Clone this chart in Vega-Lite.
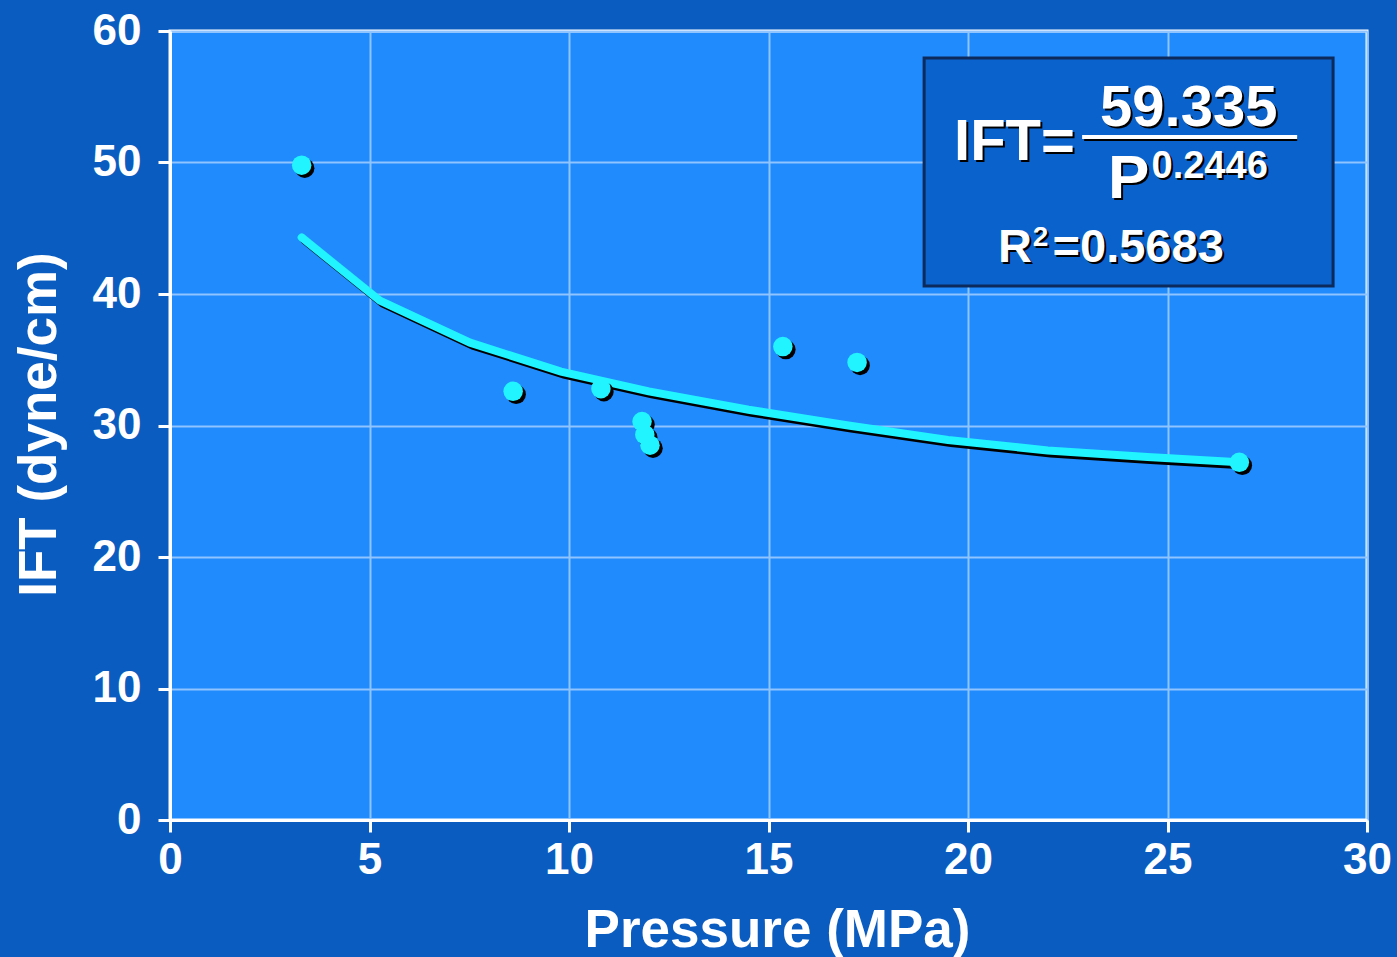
{
  "$schema": "https://vega.github.io/schema/vega-lite/v6.json",
  "autosize": "none",
  "width": 1197,
  "height": 789,
  "padding": {"left": 170, "top": 31, "right": 30, "bottom": 137},
  "background": "#0a5cc0",
  "config": {
    "view": {"fill": "#1f8bfd", "stroke": "#ffffff", "strokeWidth": 3},
    "font": "Liberation Sans",
    "axis": {
      "domainColor": "#ffffff", "domainWidth": 3,
      "tickColor": "#ffffff", "tickWidth": 3, "tickSize": 12,
      "gridColor": "#8fc4ff", "gridWidth": 2,
      "labelColor": "#ffffff", "labelFont": "Liberation Sans", "labelFontWeight": "bold", "labelFontSize": 44,
      "labelFlush": false,
      "titleColor": "#ffffff", "titleFont": "Liberation Sans", "titleFontWeight": "bold", "titleFontSize": 53
    }
  },
  "datasets": {
    "obs": [
      {"P": 3.3, "IFT": 49.8},
      {"P": 8.6, "IFT": 32.6},
      {"P": 10.8, "IFT": 32.8},
      {"P": 11.83, "IFT": 30.3},
      {"P": 11.9, "IFT": 29.3},
      {"P": 12.03, "IFT": 28.5},
      {"P": 15.36, "IFT": 36.0},
      {"P": 17.22, "IFT": 34.8},
      {"P": 26.8, "IFT": 27.2}
    ],
    "fit": [
      {"P": 3.3, "IFT": 44.3},
      {"P": 5.26, "IFT": 39.5},
      {"P": 7.52, "IFT": 36.3},
      {"P": 9.8, "IFT": 34.1},
      {"P": 12.0, "IFT": 32.6},
      {"P": 14.5, "IFT": 31.2},
      {"P": 17.0, "IFT": 30.0},
      {"P": 19.5, "IFT": 28.9},
      {"P": 22.0, "IFT": 28.1},
      {"P": 24.5, "IFT": 27.6},
      {"P": 26.8, "IFT": 27.2}
    ],
    "box": [{"x": 18.9, "x2": 29.15, "y": 40.6, "y2": 57.95}],
    "bar": [{"x": 22.86, "x2": 28.25, "y": 51.94}],
    "eq": [
      {"x": 19.65, "y": 50.19, "t": "IFT=", "k": "eq"},
      {"x": 23.31, "y": 52.78, "t": "59.335", "k": "eq"},
      {"x": 23.51, "y": 47.3, "t": "P", "k": "p"},
      {"x": 24.6, "y": 48.82, "t": "0.2446", "k": "sup"},
      {"x": 20.75, "y": 42.43, "t": "R", "k": "r"},
      {"x": 21.62, "y": 43.65, "t": "2", "k": "rsup"},
      {"x": 22.12, "y": 42.43, "t": "=0.5683", "k": "r"}
    ]
  },
  "layer": [
    {
      "data": {"name": "fit"},
      "mark": {"type": "line", "color": "#000000", "strokeWidth": 8, "xOffset": 3, "yOffset": 3, "strokeCap": "round"},
      "encoding": {
        "x": {"field": "P", "type": "quantitative",
              "scale": {"domain": [0, 30], "nice": false},
              "axis": {"values": [0, 5, 10, 15, 20, 25, 30], "title": "Pressure (MPa)", "labelPadding": 6,
                       "titleX": 607, "titleY": 126, "titleBaseline": "alphabetic", "titleAnchor": null}},
        "y": {"field": "IFT", "type": "quantitative",
              "scale": {"domain": [0, 60], "nice": false},
              "axis": {"values": [0, 10, 20, 30, 40, 50, 60], "title": "IFT (dyne/cm)", "labelPadding": 17,
                       "titleAngle": -90, "titleX": -115, "titleY": 393, "titleAlign": "center", "titleBaseline": "alphabetic"}}
      }
    },
    {
      "data": {"name": "fit"},
      "mark": {"type": "line", "color": "#22f4ff", "strokeWidth": 8, "strokeCap": "round"},
      "encoding": {
        "x": {"field": "P", "type": "quantitative"},
        "y": {"field": "IFT", "type": "quantitative"}
      }
    },
    {
      "data": {"name": "obs"},
      "mark": {"type": "circle", "color": "#000000", "opacity": 1, "size": 380, "xOffset": 3, "yOffset": 3},
      "encoding": {
        "x": {"field": "P", "type": "quantitative"},
        "y": {"field": "IFT", "type": "quantitative"}
      }
    },
    {
      "data": {"name": "obs"},
      "mark": {"type": "circle", "color": "#22f4ff", "opacity": 1, "size": 380},
      "encoding": {
        "x": {"field": "P", "type": "quantitative"},
        "y": {"field": "IFT", "type": "quantitative"}
      }
    },
    {
      "data": {"name": "box"},
      "mark": {"type": "rect", "fill": "#0a62cc", "stroke": "#0d2a5c", "strokeWidth": 3},
      "encoding": {
        "x": {"field": "x", "type": "quantitative"},
        "x2": {"field": "x2"},
        "y": {"field": "y", "type": "quantitative"},
        "y2": {"field": "y2"}
      }
    },
    {
      "data": {"name": "bar"},
      "mark": {"type": "rule", "color": "#000000", "strokeWidth": 4, "xOffset": 2, "yOffset": 2},
      "encoding": {
        "x": {"field": "x", "type": "quantitative"},
        "x2": {"field": "x2"},
        "y": {"field": "y", "type": "quantitative"}
      }
    },
    {
      "data": {"name": "bar"},
      "mark": {"type": "rule", "color": "#ffffff", "strokeWidth": 4},
      "encoding": {
        "x": {"field": "x", "type": "quantitative"},
        "x2": {"field": "x2"},
        "y": {"field": "y", "type": "quantitative"}
      }
    },
    {
      "data": {"name": "eq"},
      "mark": {"type": "text", "color": "#000000", "align": "left", "baseline": "alphabetic", "fontWeight": "bold", "font": "Liberation Sans", "dx": 2, "dy": 2},
      "encoding": {
        "x": {"field": "x", "type": "quantitative"},
        "y": {"field": "y", "type": "quantitative"},
        "text": {"field": "t"},
        "size": {"field": "k", "type": "nominal", "legend": null,
                 "scale": {"type": "ordinal", "domain": ["eq", "p", "sup", "r", "rsup"], "range": [58, 62, 38, 47, 28]}}
      }
    },
    {
      "data": {"name": "eq"},
      "mark": {"type": "text", "color": "#ffffff", "align": "left", "baseline": "alphabetic", "fontWeight": "bold", "font": "Liberation Sans"},
      "encoding": {
        "x": {"field": "x", "type": "quantitative"},
        "y": {"field": "y", "type": "quantitative"},
        "text": {"field": "t"},
        "size": {"field": "k", "type": "nominal", "legend": null,
                 "scale": {"type": "ordinal", "domain": ["eq", "p", "sup", "r", "rsup"], "range": [58, 62, 38, 47, 28]}}
      }
    }
  ]
}
